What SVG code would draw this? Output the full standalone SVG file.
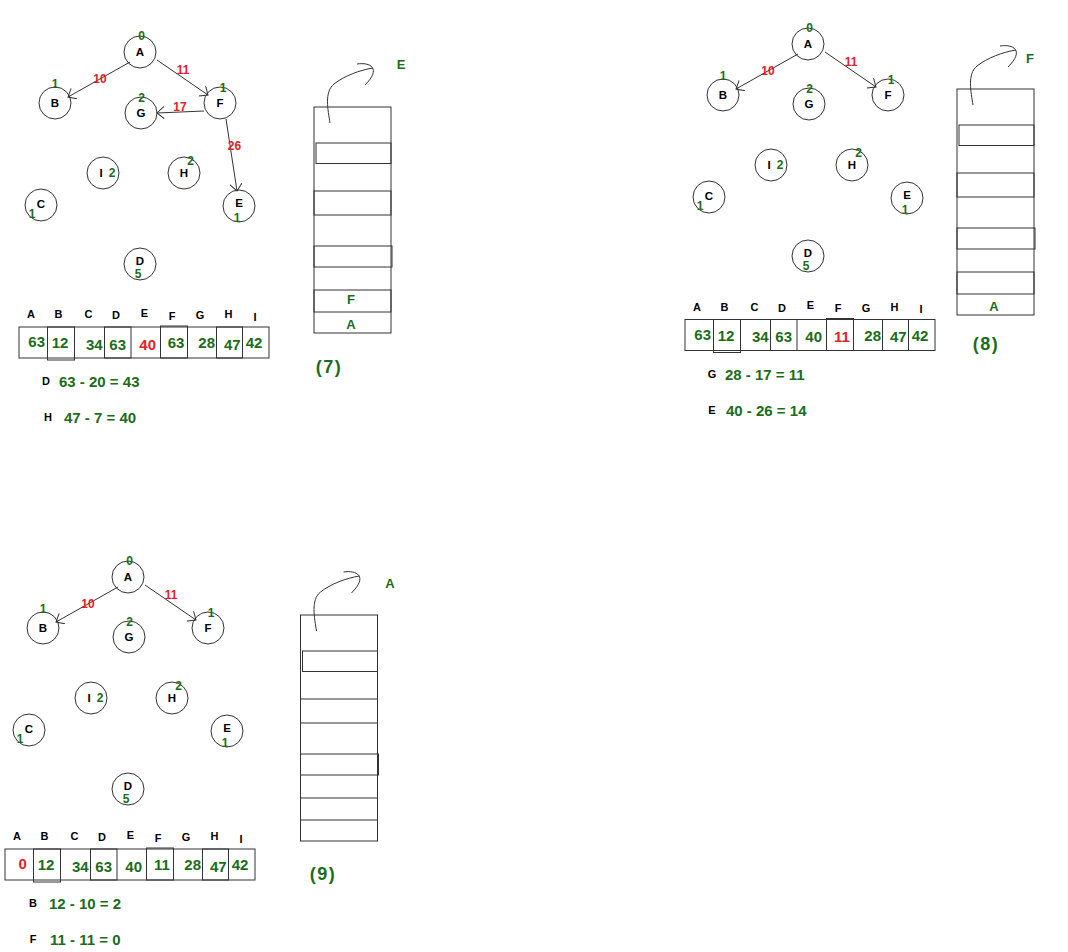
<svg xmlns="http://www.w3.org/2000/svg" width="1068" height="952" viewBox="0 0 1068 952">
<style>
text{font-family:"Liberation Sans",Arial,sans-serif;font-weight:bold;text-anchor:middle}
.node circle{fill:none;stroke:#333;stroke-width:1}
.nl{font-size:11.5px;fill:#000}
.num{font-size:12px;fill:#1a6d1a}
.el{font-size:12px;fill:#e8202a}
.edge{fill:none;stroke:#333;stroke-width:1}
.box{fill:none;stroke:#333;stroke-width:1}
.hd{font-size:11px;fill:#000}
.v{font-size:15px;fill:#1a6d1a}
.vr{font-size:15px;fill:#e8202a}
.eq{font-size:15px;fill:#1a6d1a;text-anchor:start}
.eqk{font-size:11px;fill:#000}
.sl{font-size:13px;fill:#1a6d1a}
.pl{font-size:18px;fill:#1a6d1a;letter-spacing:1.5px}
</style>
<defs>
<marker id="open" markerUnits="userSpaceOnUse" markerWidth="14" markerHeight="14" refX="9" refY="6" orient="auto">
<path d="M2,0 L9,6 L2,12" fill="none" stroke="#333" stroke-width="1"/>
</marker>
</defs>
<rect width="1068" height="952" fill="#fff"/>

<!-- ===== Panel 7 ===== -->
<g id="panel7">
<g id="p7-A" class="node"><circle cx="140" cy="52" r="16"/><text class="nl" x="140" y="56">A</text><text class="num" x="141.5" y="39.5">0</text></g>
<g id="p7-B" class="node"><circle cx="55" cy="103" r="16"/><text class="nl" x="55" y="107">B</text><text class="num" x="55" y="87.5">1</text></g>
<g id="p7-G" class="node"><circle cx="141" cy="113" r="16"/><text class="nl" x="141" y="117">G</text><text class="num" x="141.5" y="101.5">2</text></g>
<g id="p7-F" class="node"><circle cx="220" cy="103" r="16"/><text class="nl" x="220" y="107">F</text><text class="num" x="223" y="92">1</text></g>
<g id="p7-I" class="node"><circle cx="103" cy="173" r="16"/><text class="nl" x="101" y="177">I</text><text class="num" x="112" y="177">2</text></g>
<g id="p7-H" class="node"><circle cx="184" cy="173" r="16"/><text class="nl" x="184" y="177">H</text><text class="num" x="190.5" y="164.5">2</text></g>
<g id="p7-C" class="node"><circle cx="41" cy="205" r="16"/><text class="nl" x="41" y="208">C</text><text class="num" x="32" y="217.5">1</text></g>
<g id="p7-E" class="node"><circle cx="239" cy="206" r="16"/><text class="nl" x="239" y="207">E</text><text class="num" x="237" y="221.5">1</text></g>
<g id="p7-D" class="node"><circle cx="140" cy="264" r="16"/><text class="nl" x="140" y="265">D</text><text class="num" x="138" y="277.5">5</text></g>

<g id="p7-array">
<rect class="box" x="19" y="327" width="250" height="31"/>
<rect class="box" x="47.5" y="327" width="27" height="33"/>
<rect class="box" x="104.5" y="327" width="26.5" height="31"/>
<rect class="box" x="160.5" y="326" width="27" height="32"/>
<rect class="box" x="216.5" y="327" width="26" height="31"/>
<text class="hd" x="31" y="318">A</text><text class="hd" x="58.5" y="318">B</text><text class="hd" x="88.5" y="318">C</text><text class="hd" x="116" y="319">D</text><text class="hd" x="144.5" y="316.5">E</text><text class="hd" x="172" y="319.5">F</text><text class="hd" x="200" y="319">G</text><text class="hd" x="228.5" y="318">H</text><text class="hd" x="255" y="320.5">I</text>
<text class="v" x="36.7" y="347">63</text><text class="v" x="60" y="348">12</text><text class="v" x="94.3" y="349.5">34</text><text class="v" x="117.7" y="349.5">63</text><text class="vr" x="147.7" y="349.5">40</text><text class="v" x="176" y="348">63</text><text class="v" x="206.7" y="348">28</text><text class="v" x="232.3" y="349.5">47</text><text class="v" x="254" y="348">42</text>
<text class="eqk" x="46" y="385">D</text><text class="eq" x="59" y="387">63 - 20 = 43</text>
<text class="eqk" x="48" y="421">H</text><text class="eq" x="64" y="423">47 - 7 = 40</text>
</g>

<g id="p7-stack">
<rect class="box" x="314" y="107" width="77" height="226"/>
<rect class="box" x="316" y="143" width="75" height="20.5"/>
<rect class="box" x="314" y="191" width="77" height="24"/>
<rect class="box" x="314" y="246" width="78" height="21"/>
<rect class="box" x="314" y="290" width="77" height="22"/>
<text class="sl" x="351" y="304">F</text>
<text class="sl" x="351" y="329">A</text>
<path class="edge" d="M330,123 C328,110 324,92 334,84 C344,76 360,70 373,68"/>
<path class="edge" d="M357,64 C370,62 382,68 365,85"/>
<text class="sl" x="401" y="69">E</text>
</g>
<text id="p7-label" class="pl" x="329" y="373">(7)</text>
</g>

<!-- ===== Panel 8 ===== -->
<g id="panel8">
<g transform="translate(668,-8)">
<g id="p8-A" class="node"><circle cx="140" cy="52" r="16"/><text class="nl" x="140" y="56">A</text><text class="num" x="141.5" y="39.5">0</text></g>
<g id="p8-B" class="node"><circle cx="55" cy="103" r="16"/><text class="nl" x="55" y="107">B</text><text class="num" x="55" y="87.5">1</text></g>
<g id="p8-G" class="node"><circle cx="141" cy="112" r="16"/><text class="nl" x="141" y="116">G</text><text class="num" x="141.5" y="100.5">2</text></g>
<g id="p8-F" class="node"><circle cx="220" cy="103" r="16"/><text class="nl" x="220" y="107">F</text><text class="num" x="223" y="92">1</text></g>
<g id="p8-I" class="node"><circle cx="103" cy="173" r="16"/><text class="nl" x="101" y="177">I</text><text class="num" x="112" y="177">2</text></g>
<g id="p8-H" class="node"><circle cx="184" cy="173" r="16"/><text class="nl" x="184" y="177">H</text><text class="num" x="190.5" y="164.5">2</text></g>
<g id="p8-C" class="node"><circle cx="41" cy="205" r="16"/><text class="nl" x="41" y="208">C</text><text class="num" x="32" y="217.5">1</text></g>
<g id="p8-E" class="node"><circle cx="239" cy="206" r="16"/><text class="nl" x="239" y="207">E</text><text class="num" x="237" y="221.5">1</text></g>
<g id="p8-D" class="node"><circle cx="140" cy="264" r="16"/><text class="nl" x="140" y="265">D</text><text class="num" x="138" y="277.5">5</text></g>
</g>
<g id="p8-array" transform="translate(666,-7.5)">
<rect class="box" x="19" y="327" width="250" height="31"/>
<rect class="box" x="47.5" y="327" width="27" height="33"/>
<rect class="box" x="104.5" y="327" width="26.5" height="31"/>
<rect class="box" x="160.5" y="326" width="27" height="32"/>
<rect class="box" x="216.5" y="327" width="26" height="31"/>
<text class="hd" x="31" y="318">A</text><text class="hd" x="58.5" y="318">B</text><text class="hd" x="88.5" y="318">C</text><text class="hd" x="116" y="319">D</text><text class="hd" x="144.5" y="316.5">E</text><text class="hd" x="172" y="319.5">F</text><text class="hd" x="200" y="319">G</text><text class="hd" x="228.5" y="318">H</text><text class="hd" x="255" y="320.5">I</text>
<text class="v" x="36.7" y="347">63</text><text class="v" x="60" y="348">12</text><text class="v" x="94.3" y="349.5">34</text><text class="v" x="117.7" y="349.5">63</text><text class="v" x="147.7" y="349.5">40</text><text class="vr" x="176" y="349">11</text><text class="v" x="206.7" y="348">28</text><text class="v" x="232.3" y="349.5">47</text><text class="v" x="254" y="348">42</text>
<text class="eqk" x="46" y="385">G</text><text class="eq" x="59" y="387">28 - 17 = 11</text>
<text class="eqk" x="46" y="421">E</text><text class="eq" x="60" y="423">40 - 26 = 14</text>
</g>
<g id="p8-stack" transform="translate(643,-18)">
<rect class="box" x="314" y="107" width="77" height="226"/>
<rect class="box" x="316" y="143" width="75" height="20.5"/>
<rect class="box" x="314" y="191" width="77" height="24"/>
<rect class="box" x="314" y="246" width="78" height="21"/>
<rect class="box" x="314" y="290" width="77" height="22"/>
<text class="sl" x="351" y="329">A</text>
<path class="edge" d="M330,123 C328,110 324,92 334,84 C344,76 360,70 373,68"/>
<path class="edge" d="M357,64 C370,62 382,68 365,85"/>
</g>
<text class="sl" x="1030" y="63">F</text>
<text id="p8-label" class="pl" x="986" y="350">(8)</text>
</g>

<!-- ===== Panel 9 ===== -->
<g id="panel9">
<g transform="translate(-12,525)">
<g id="p9-A" class="node"><circle cx="140" cy="52" r="16"/><text class="nl" x="140" y="56">A</text><text class="num" x="141.5" y="39.5">0</text></g>
<g id="p9-B" class="node"><circle cx="55" cy="103" r="16"/><text class="nl" x="55" y="107">B</text><text class="num" x="55" y="87.5">1</text></g>
<g id="p9-G" class="node"><circle cx="141" cy="112" r="16"/><text class="nl" x="141" y="116">G</text><text class="num" x="141.5" y="100.5">2</text></g>
<g id="p9-F" class="node"><circle cx="220" cy="103" r="16"/><text class="nl" x="220" y="107">F</text><text class="num" x="223" y="92">1</text></g>
<g id="p9-I" class="node"><circle cx="103" cy="173" r="16"/><text class="nl" x="101" y="177">I</text><text class="num" x="112" y="177">2</text></g>
<g id="p9-H" class="node"><circle cx="184" cy="173" r="16"/><text class="nl" x="184" y="177">H</text><text class="num" x="190.5" y="164.5">2</text></g>
<g id="p9-C" class="node"><circle cx="41" cy="205" r="16"/><text class="nl" x="41" y="208">C</text><text class="num" x="32" y="217.5">1</text></g>
<g id="p9-E" class="node"><circle cx="239" cy="206" r="16"/><text class="nl" x="239" y="207">E</text><text class="num" x="237" y="221.5">1</text></g>
<g id="p9-D" class="node"><circle cx="140" cy="264" r="16"/><text class="nl" x="140" y="265">D</text><text class="num" x="138" y="277.5">5</text></g>
</g>
<g id="p9-array" transform="translate(-14,522)">
<rect class="box" x="19" y="327" width="250" height="31"/>
<rect class="box" x="47.5" y="327" width="27" height="33"/>
<rect class="box" x="104.5" y="327" width="26.5" height="31"/>
<rect class="box" x="160.5" y="326" width="27" height="32"/>
<rect class="box" x="216.5" y="327" width="26" height="31"/>
<text class="hd" x="31" y="318">A</text><text class="hd" x="58.5" y="318">B</text><text class="hd" x="88.5" y="318">C</text><text class="hd" x="116" y="319">D</text><text class="hd" x="144.5" y="316.5">E</text><text class="hd" x="172" y="319.5">F</text><text class="hd" x="200" y="319">G</text><text class="hd" x="228.5" y="318">H</text><text class="hd" x="255" y="320.5">I</text>
<text class="vr" x="36.7" y="347">0</text><text class="v" x="60" y="348">12</text><text class="v" x="94.3" y="349.5">34</text><text class="v" x="117.7" y="349.5">63</text><text class="v" x="147.7" y="349.5">40</text><text class="v" x="176" y="348">11</text><text class="v" x="206.7" y="348">28</text><text class="v" x="232.3" y="349.5">47</text><text class="v" x="254" y="348">42</text>
<text class="eqk" x="47" y="385">B</text><text class="eq" x="63" y="387">12 - 10 = 2</text>
<text class="eqk" x="47" y="421">F</text><text class="eq" x="64" y="423">11 - 11 = 0</text>
</g>
<g id="p9-stack" transform="translate(-13.5,508)">
<rect class="box" x="314" y="107" width="77" height="226"/>
<rect class="box" x="316" y="143" width="75" height="20.5"/>
<rect class="box" x="314" y="191" width="77" height="24"/>
<rect class="box" x="314" y="246" width="78" height="21"/>
<rect class="box" x="314" y="290" width="77" height="22"/>
<path class="edge" d="M330,123 C328,110 324,92 334,84 C344,76 360,70 373,68"/>
<path class="edge" d="M357,64 C370,62 382,68 365,85"/>
</g>
<text class="sl" x="390" y="588">A</text>
<text id="p9-label" class="pl" x="323" y="880">(9)</text>
</g>

<!-- ===== Connectors ===== -->
<g id="connectors">
<g id="c7">
<line class="edge" x1="130" y1="62" x2="68" y2="97" marker-end="url(#open)"/>
<line class="edge" x1="157" y1="60" x2="208" y2="95" marker-end="url(#open)"/>
<line class="edge" x1="204" y1="111" x2="157" y2="113" marker-end="url(#open)"/>
<line class="edge" x1="226" y1="119" x2="237" y2="191" marker-end="url(#open)"/>
<text class="el" x="100" y="83">10</text>
<text class="el" x="183" y="74">11</text>
<text class="el" x="180" y="111">17</text>
<text class="el" x="234.5" y="150">26</text>
</g>
<g id="c8" transform="translate(668,-8)">
<line class="edge" x1="130" y1="62" x2="68" y2="97" marker-end="url(#open)"/>
<line class="edge" x1="157" y1="60" x2="208" y2="95" marker-end="url(#open)"/>
<text class="el" x="100" y="83">10</text>
<text class="el" x="183" y="74">11</text>
</g>
<g id="c9" transform="translate(-12,525)">
<line class="edge" x1="130" y1="62" x2="68" y2="97" marker-end="url(#open)"/>
<line class="edge" x1="157" y1="60" x2="208" y2="95" marker-end="url(#open)"/>
<text class="el" x="100" y="83">10</text>
<text class="el" x="183" y="74">11</text>
</g>
</g>
</svg>
